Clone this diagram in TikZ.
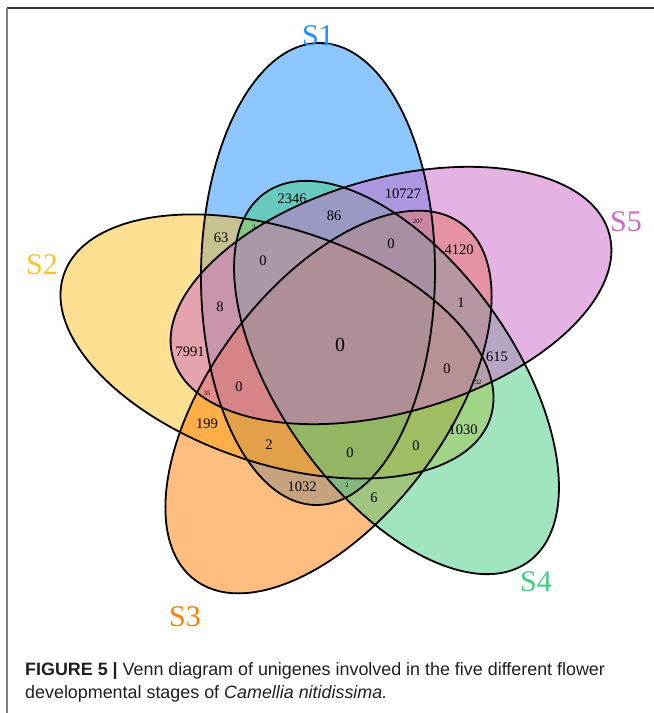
\documentclass[tikz,border=0pt]{standalone}
\usepackage{fontspec}
\setmainfont{Liberation Serif}
\newfontfamily\capfont{Liberation Sans}
\definecolor{cSone}{RGB}{30,144,255}
\definecolor{cStwo}{RGB}{255,193,37}
\definecolor{cSthree}{RGB}{255,127,0}
\definecolor{cSfour}{RGB}{67,205,128}
\definecolor{cSfive}{RGB}{205,105,201}
\begin{document}
\begin{tikzpicture}[x=1pt,y=-1pt,
  setfill/.style={fill=#1, fill opacity=0.5, draw=none},
  setline/.style={draw=black, line width=1.8pt},
  num/.style={font=\fontsize{14.5}{16}\selectfont, inner sep=0pt},
  bignum/.style={font=\fontsize{20}{22}\selectfont, inner sep=0pt},
  tinynum/.style={font=\fontsize{6.5}{7}\selectfont, inner sep=0pt},
  setlabel/.style={font=\fontsize{30}{32}\selectfont, inner sep=0pt, text=#1},
  capstyle/.style={font=\capfont\fontsize{17.9}{20}\selectfont, text=black!88, inner sep=0pt, anchor=base west}]
\useasboundingbox (0,0) rectangle (654,713);
\fill[white] (0,0) rectangle (654,713);
% frame
\draw[line width=2pt, black!80] (7,8) -- (654,8);
\draw[line width=1.2pt, black!50] (7,8) -- (7,713);
% fills
\path[setfill=cSone, rotate around={89.5:(318,274)}] (318,274) ellipse [x radius=231pt, y radius=117pt];
\path[setfill=cStwo, rotate around={161.4:(277,346.5)}] (277,346.5) ellipse [x radius=225pt, y radius=117pt];
\path[setfill=cSthree, rotate around={233.1:(328.5,402)}] (328.5,402) ellipse [x radius=222.5pt, y radius=117pt];
\path[setfill=cSfour, rotate around={305.5:(396.5,377.5)}] (396.5,377.5) ellipse [x radius=226.6pt, y radius=117pt];
\path[setfill=cSfive, rotate around={16:(391,295.5)}] (391,295.5) ellipse [x radius=226.8pt, y radius=117pt];
% outlines
\draw[setline, rotate around={89.5:(318,274)}] (318,274) ellipse [x radius=231pt, y radius=117pt];
\draw[setline, rotate around={161.4:(277,346.5)}] (277,346.5) ellipse [x radius=225pt, y radius=117pt];
\draw[setline, rotate around={233.1:(328.5,402)}] (328.5,402) ellipse [x radius=222.5pt, y radius=117pt];
\draw[setline, rotate around={305.5:(396.5,377.5)}] (396.5,377.5) ellipse [x radius=226.6pt, y radius=117pt];
\draw[setline, rotate around={16:(391,295.5)}] (391,295.5) ellipse [x radius=226.8pt, y radius=117pt];
% set labels
\node[setlabel=cSone] (lSone) at (318,36) {S1};
\node[setlabel=cStwo] (lStwo) at (42,265) {S2};
\node[setlabel=cSthree] (lSthree) at (185,617) {S3};
\node[setlabel=cSfour] (lSfour) at (536,582) {S4};
\node[setlabel=cSfive] (lSfive) at (626,222) {S5};
% region counts
\node[num] (r1) at (292,199) {2346};
\node[num] (r2) at (334,216) {86};
\node[num] (r3) at (403,194) {10727};
\node[tinynum] (r4) at (254,227) {3};
\node[num] (r5) at (221,238) {63};
\node[num] (r6) at (263,261) {0};
\node[tinynum] (r7) at (418,221) {207};
\node[num] (r8) at (391,244) {0};
\node[num] (r9) at (459,250) {4120};
\node[num] (r10) at (461,303) {1};
\node[num] (r11) at (220,307) {8};
\node[num] (r12) at (190,352) {7991};
\node[bignum] (r13) at (340,345) {0};
\node[tinynum] (r14) at (207,393) {35};
\node[num] (r15) at (239,387) {0};
\node[num] (r16) at (207,424) {199};
\node[num] (r17) at (269,445) {2};
\node[num] (r18) at (302,487) {1032};
\node[num] (r19) at (350,453) {0};
\node[tinynum] (r20) at (347,485) {2};
\node[num] (r21) at (374,498) {6};
\node[num] (r22) at (416,446) {0};
\node[num] (r23) at (463,430) {1030};
\node[num] (r24) at (447,369) {0};
\node[tinynum] (r25) at (478,382) {32};
\node[num] (r26) at (497,357) {615};
% caption
\node[capstyle] (capA) at (25,675) {\textbf{FIGURE 5 |} Venn diagram of unigenes involved in the five different flower};
\node[capstyle] (capB) at (25,698) {developmental stages of \textit{Camellia nitidissima.}};
\end{tikzpicture}
\end{document}
